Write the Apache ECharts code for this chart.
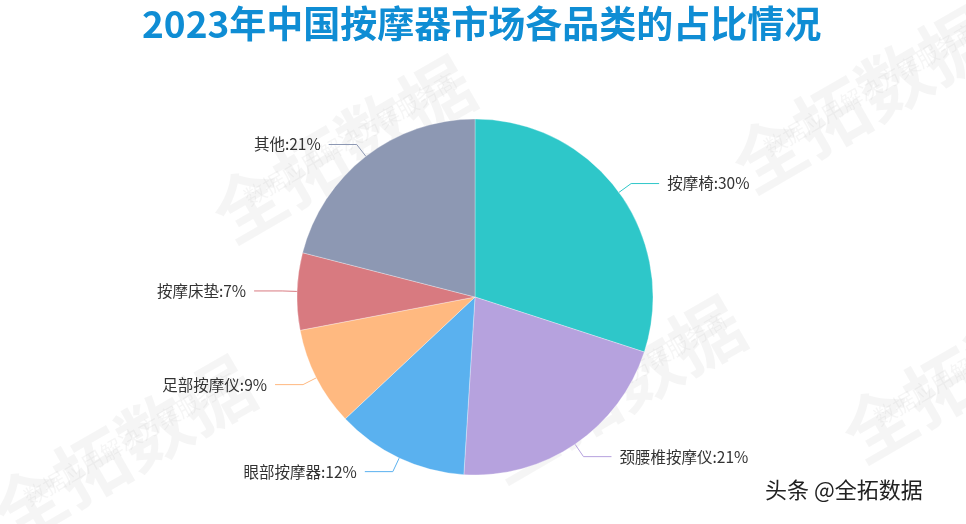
<!DOCTYPE html>
<html><head><meta charset="utf-8">
<script src="https://cdn.jsdelivr.net/npm/echarts@6/dist/echarts.min.js"></script>
<style>html,body{margin:0;padding:0;background:#fff}#c{width:966px;height:524px}</style>
</head><body><div id="c"></div>
<script>
var categories = ['按摩椅','颈腰椎按摩仪','眼部按摩器','足部按摩仪','按摩床垫','其他'];
var values = [30, 21, 12, 9, 7, 21];
var colors = ['#2ec7c9','#b6a2de','#5ab1ef','#ffb980','#d87a80','#8d98b3'];
var chart = echarts.init(document.getElementById('c'));
var wm = [];
function mark(x,y,big){
  wm.push({type:'text',x:x,y:y,rotation:Math.PI/6,z:0,silent:true,
    style:{text:big?'全拓数据':'数据应用解决方案服务商',fill:'rgba(0,0,0,0.04)',
      font:big?'bold 72px "Noto Sans CJK SC"':'22px "Noto Sans CJK SC"'}});
}
mark(200,190,true); mark(240,190,false);
mark(720,140,true); mark(760,140,false);
mark(-20,490,true); mark(20,490,false);
mark(470,430,true); mark(510,430,false);
mark(830,410,true); mark(870,410,false);
wm.push({type:'text',x:765,y:479,z:10,style:{text:'头条 @全拓数据',fill:'#222',
  font:'22px "Noto Sans CJK SC"',textShadowColor:'#fff',textShadowBlur:2}});
chart.setOption({
  color: colors,
  title:{text:'2023年中国按摩器市场各品类的占比情况',left:137,top:0,
    textStyle:{color:'#0f8dd4',fontSize:37,fontWeight:'bold',fontFamily:'"Noto Sans CJK SC"'}},
  graphic: wm,
  series:[{
    type:'pie',center:[475,297],radius:178,startAngle:90,clockwise:true,
    data: categories.map(function(n,i){return {name:n,value:values[i]};}),
    label:{formatter:'{b}:{c}%',color:'#333',fontSize:15.5,fontFamily:'"Noto Sans CJK SC"',padding:[0,3]},
    labelLine:{length:15,length2:28},
    itemStyle:{borderColor:'rgba(255,255,255,0.3)',borderWidth:1}
  }]
});
</script></body></html>
